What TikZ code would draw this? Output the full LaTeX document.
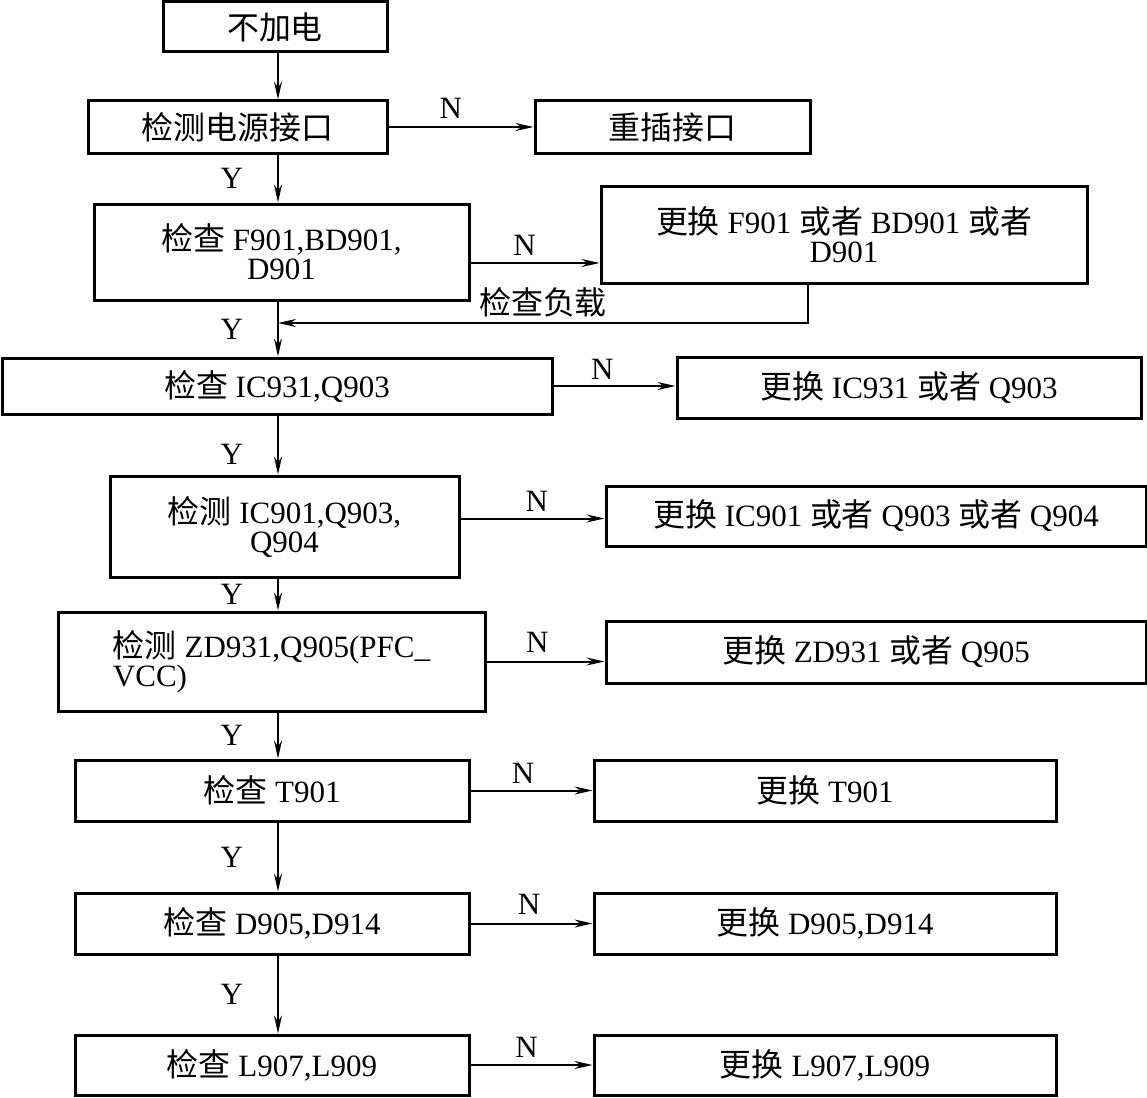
\documentclass[tikz,border=0pt]{standalone}
\usepackage{fontspec}
\setmainfont{Liberation Serif}
\newfontfamily\cjk[Scale=1.03]{Noto Sans CJK SC}
\usetikzlibrary{arrows.meta}
\begin{document}
\begin{tikzpicture}[x=1pt, y=-1pt,
  box/.style = {draw, line width=3pt, inner sep=0pt, align=center,
                font=\fontsize{31}{29}\selectfont},
  lab/.style = {inner sep=0pt, font=\fontsize{31}{29}\selectfont},
  arr/.style = {line width=2pt, -{Stealth[length=18pt,width=8pt,inset=6pt]}}]
\useasboundingbox (0,0) rectangle (1147,1097);
\coordinate (spine) at (278,0);
\coordinate (load) at (808,323);
\begin{scope}[every node/.style = box]
\node[minimum width=224, minimum height=50] (Start) at (275,27) {{\cjk 不加电}};
\node[minimum width=299, minimum height=52] (S1) at (237.5,127) {{\cjk 检测电源接口}};
\node[minimum width=275, minimum height=52] (F1) at (672.5,127) {{\cjk 重插接口}};
\node[minimum width=375, minimum height=96] (S2) at (281.5,252) {{\cjk 检查} F901,BD901,\\D901};
\node[minimum width=486, minimum height=97] (F2) at (844,234.5) {{\cjk 更换} F901 {\cjk 或者} BD901 {\cjk 或者}\\D901};
\node[minimum width=550, minimum height=56] (S3) at (277,386) {{\cjk 检查} IC931,Q903};
\node[minimum width=464, minimum height=61] (F3) at (909,387.5) {{\cjk 更换} IC931 {\cjk 或者} Q903};
\node[minimum width=349, minimum height=101] (S4) at (284.5,526.5) {{\cjk 检测} IC901,Q903,\\Q904};
\node[minimum width=540, minimum height=60] (F4) at (876,516) {{\cjk 更换} IC901 {\cjk 或者} Q903 {\cjk 或者} Q904};
\node[minimum width=427, minimum height=99, align=left] (S5) at (271.5,661.5) {{\cjk 检测} ZD931,Q905(PFC\_\\VCC)};
\node[minimum width=540, minimum height=62] (F5) at (876,652) {{\cjk 更换} ZD931 {\cjk 或者} Q905};
\node[minimum width=394, minimum height=61] (S6) at (272,790.5) {{\cjk 检查} T901};
\node[minimum width=462, minimum height=61] (F6) at (825,790.5) {{\cjk 更换} T901};
\node[minimum width=394, minimum height=61] (S7) at (272,923.5) {{\cjk 检查} D905,D914};
\node[minimum width=462, minimum height=61] (F7) at (825,923.5) {{\cjk 更换} D905,D914};
\node[minimum width=394, minimum height=60] (S8) at (272,1065) {{\cjk 检查} L907,L909};
\node[minimum width=462, minimum height=60] (F8) at (825,1065) {{\cjk 更换} L907,L909};
\end{scope}
% main line, Y branches
\draw[arr] (Start.south -| spine) -- (S1.north -| spine);
\draw[arr] (S1.south -| spine) -- node[lab, left=34pt] {Y} (S2.north -| spine);
\draw[arr] (S2.south -| spine) -- node[lab, left=34pt] {Y} (S3.north -| spine);
\draw[arr] (S3.south -| spine) -- node[lab, left=34pt, pos=0.65] {Y} (S4.north -| spine);
\draw[arr] (S4.south -| spine) -- node[lab, left=34pt] {Y} (S5.north -| spine);
\draw[arr] (S5.south -| spine) -- node[lab, left=34pt] {Y} (S6.north -| spine);
\draw[arr] (S6.south -| spine) -- node[lab, left=34pt] {Y} (S7.north -| spine);
\draw[arr] (S7.south -| spine) -- node[lab, left=34pt] {Y} (S8.north -| spine);
% N branches
\draw[arr] (S1.east) -- node[lab, above=8pt, pos=0.43] {N} (S1.east -| F1.west);
\draw[arr] ([yshift=-11pt]S2.east) -- node[lab, above=7pt, pos=0.42] {N} ([yshift=-11pt]S2.east -| F2.west);
\draw[arr] (S3.east) -- node[lab, above=6pt, pos=0.4] {N} (S3.east -| F3.west);
\draw[arr] ([yshift=8pt]S4.east) -- node[lab, above=6pt, pos=0.53] {N} ([yshift=8pt]S4.east -| F4.west);
\draw[arr] (S5.east) -- node[lab, above=8pt, pos=0.43] {N} (S5.east -| F5.west);
\draw[arr] (S6.east) -- node[lab, above=6pt, pos=0.43] {N} (S6.east -| F6.west);
\draw[arr] (S7.east) -- node[lab, above=8pt, pos=0.48] {N} (S7.east -| F7.west);
\draw[arr] (S8.east) -- node[lab, above=7pt, pos=0.46] {N} (S8.east -| F8.west);
% back to the main line
\draw[arr] (F2.south -| load) -- (load) -- node[lab, above=5pt] {\cjk 检查负载} (load -| spine);
\end{tikzpicture}
\end{document}
